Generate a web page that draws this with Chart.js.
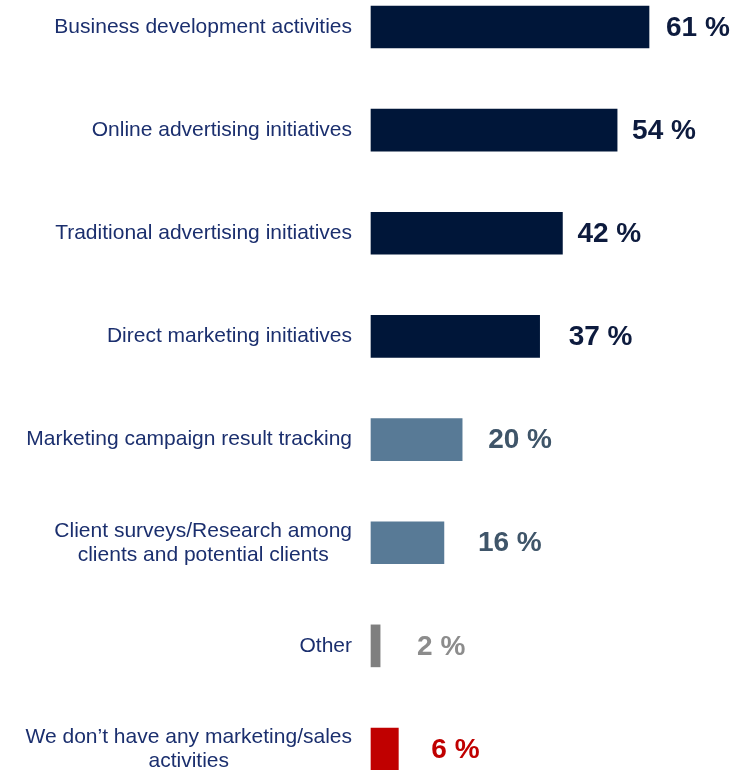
<!DOCTYPE html>
<html>
<head>
<meta charset="utf-8">
<title>Marketing activities</title>
<script src="https://cdn.jsdelivr.net/npm/chart.js@4/dist/chart.umd.min.js"></script>
<style>
  html, body { margin: 0; padding: 0; background: #ffffff; }
  #wrap { position: relative; width: 747px; height: 770px; }
</style>
</head>
<body>
<div id="wrap"><canvas id="activities-chart"></canvas></div>
<script>
// categories (multi-line ones as arrays) and share of respondents in %
const categories = [
  "Business development activities",
  "Online advertising initiatives",
  "Traditional advertising initiatives",
  "Direct marketing initiatives",
  "Marketing campaign result tracking",
  ["Client surveys/Research among", "clients and potential clients"],
  "Other",
  ["We don\u2019t have any marketing/sales", "activities"],
];
const shares = [61, 54, 42, 37, 20, 16, 2, 6];

// bar and value-label colours per row
const barColors = ["#001639", "#001639", "#001639", "#001639", "#587A96", "#587A96", "#7F7F7F", "#C00000"];
const valueColors = ["#0D1B3E", "#0D1B3E", "#0D1B3E", "#0D1B3E", "#3F5569", "#3F5569", "#8C8C8C", "#C00000"];
// gap between bar end and its value label, px
const valueGaps = [17, 15, 15, 29, 26, 34, 37, 33];

const labelColor = "#1B2F6E";
const labelRight = 352;

// category text: right-aligned block, centred lines
const categoryLabels = {
  id: "categoryLabels",
  afterDraw(chart) {
    const c = chart.ctx;
    const y = chart.scales.y;
    c.save();
    c.font = "21px 'Liberation Sans', Arial, sans-serif";
    c.fillStyle = labelColor;
    c.textBaseline = "middle";
    c.textAlign = "center";
    categories.forEach((cat, i) => {
      const lines = Array.isArray(cat) ? cat : [cat];
      const w = Math.max(...lines.map((l) => c.measureText(l).width));
      const cx = labelRight - w / 2;
      const lh = 24;
      const top = y.getPixelForTick(i) - ((lines.length - 1) * lh) / 2;
      lines.forEach((l, j) => c.fillText(l, cx, top + j * lh));
    });
    c.restore();
  },
};

// "61 %" style labels after each bar
const valueLabels = {
  id: "valueLabels",
  afterDatasetsDraw(chart) {
    const c = chart.ctx;
    const meta = chart.getDatasetMeta(0);
    c.save();
    c.font = "bold 28px 'Liberation Sans', Arial, sans-serif";
    c.textBaseline = "middle";
    c.textAlign = "left";
    meta.data.forEach((bar, i) => {
      c.fillStyle = valueColors[i];
      c.fillText(shares[i] + " %", bar.x + valueGaps[i], bar.y + 1);
    });
    c.restore();
  },
};

new Chart(document.getElementById("activities-chart"), {
  type: "bar",
  data: {
    labels: categories,
    datasets: [
      {
        data: shares,
        backgroundColor: barColors,
        borderWidth: 0,
        barThickness: 42,
        clip: false,
      },
    ],
  },
  options: {
    indexAxis: "y",
    responsive: true,
    maintainAspectRatio: false,
    animation: false,
    layout: { padding: { top: 27, bottom: 21, left: 0, right: 0 } },
    plugins: {
      legend: { display: false },
      tooltip: { enabled: false },
    },
    scales: {
      x: {
        min: 0,
        max: 82.5,
        display: false,
      },
      y: {
        offset: false,
        grid: { display: false },
        border: { display: false },
        ticks: { display: false },
        afterFit(scale) {
          scale.width = 371;
        },
      },
    },
  },
  plugins: [categoryLabels, valueLabels],
});
</script>
</body>
</html>
